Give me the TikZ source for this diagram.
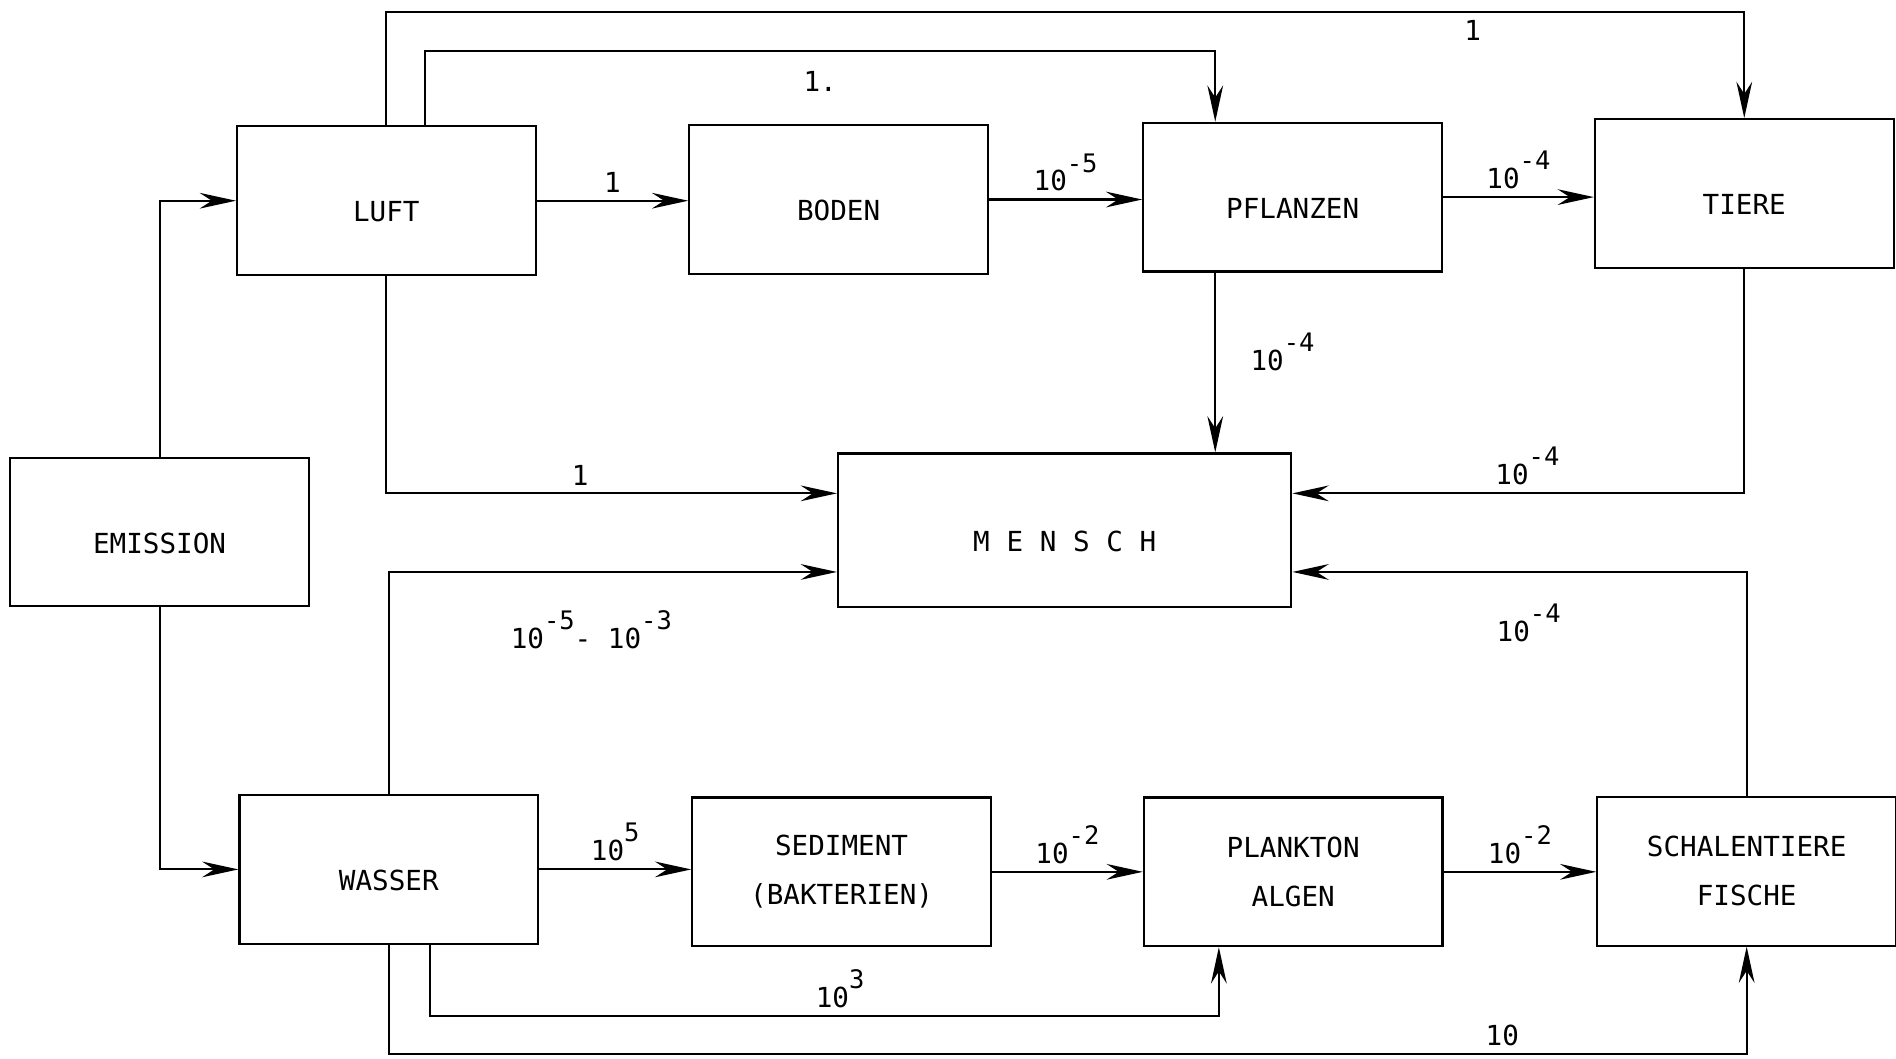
\documentclass[tikz,border=0pt]{standalone}
\usepackage{fontspec}
\setmonofont{DejaVu Sans Mono}
\usetikzlibrary{arrows.meta,calc}
\newcommand{\hoch}[1]{\raisebox{1.25ex}{\fontsize{12}{14}\selectfont #1}}
\tikzset{
    box/.style={draw, line width=1pt, minimum width=4.94cm, minimum height=2.46cm, align=center},
    low/.style={text height=0.7cm, text depth=0pt},
    flow/.style={line width=1pt, -{Stealth[length=6mm, width=2.6mm, inset=2mm]}},
}

\begin{document}
\begin{tikzpicture}[x=0.02cm, y=-0.02cm, every node/.style={font=\fontsize{13}{15}\selectfont\ttfamily}]
    \useasboundingbox (0,0) rectangle (1568,875);
    \node[box, low] (emission) at (132,440) {EMISSION};
    \node[box, low] (luft) at (319.5,166) {LUFT};
    \node[box, low] (boden) at (693.5,165) {BODEN};
    \node[box, low] (pflanzen) at (1069,163) {PFLANZEN};
    \node[box, low] (tiere) at (1442.5,160) {TIERE};
    \node[box, low, minimum width=7.5cm, minimum height=2.54cm] (mensch) at (880.5,438.5) {M E N S C H};
    \node[box, low] (wasser) at (321.5,719) {WASSER};
    \node[box] (sediment) at (696,721) {SEDIMENT\\[8pt](BAKTERIEN)};
    \node[box] (plankton) at (1069.5,721) {PLANKTON\\[8pt]ALGEN};
    \node[box] (schalen) at (1444.5,720.5) {SCHALENTIERE\\[8pt]FISCHE};
    \coordinate (ytop) at (0,10);
    \coordinate (ypf) at (0,42);
    \coordinate (yup) at (0,408);
    \coordinate (ylow) at (0,473);
    \coordinate (ypl) at (0,840);
    \coordinate (ybot) at (0,872);
    \coordinate (xpf) at (1005,0);
    \coordinate (xpl) at (1008,0);
    \draw[flow] (emission.north) |- (luft.west);
    \draw[flow] (emission.south) |- (wasser.west);
    \draw[flow] (luft.east) -- (luft.east -| boden.west) node[midway, above] {1};
    \draw[flow] (boden.east) -- (boden.east -| pflanzen.west) node[midway, above] {10\hoch{-5}};
    \draw[flow] (pflanzen.east) -- (pflanzen.east -| tiere.west) node[midway, above] {10\hoch{-4}};
    \draw[flow] (luft.north) |- (ytop -| tiere.north) node[pos=0.9, below] {1} -- (tiere.north);
    \draw[flow] ($(luft.north)+(32,0)$) |- (ypf -| xpf) node[pos=0.75, below=0.2cm] {1.} -- (pflanzen.north -| xpf);
    \draw[flow] (pflanzen.south -| xpf) -- (mensch.north -| xpf) node[pos=0.44, right=0.45cm] {10\hoch{-4}};
    \draw[flow] (luft.south) |- (mensch.west |- yup) node[pos=0.715, above] {1};
    \draw[flow] (tiere.south) |- (mensch.east |- yup) node[pos=0.74, above] {10\hoch{-4}};
    \draw[flow] (wasser.north) |- (mensch.west |- ylow) node[pos=0.726, below=0.5cm] {10\hoch{-5}- 10\hoch{-3}};
    \draw[flow] (schalen.north) |- (mensch.east |- ylow) node[pos=0.74, below=0.4cm] {10\hoch{-4}};
    \draw[flow] (wasser.east) -- (wasser.east -| sediment.west) node[midway, above] {10\hoch{5}};
    \draw[flow] (sediment.east) -- (sediment.east -| plankton.west) node[midway, above] {10\hoch{-2}};
    \draw[flow] (plankton.east) -- (plankton.east -| schalen.west) node[midway, above] {10\hoch{-2}};
    \draw[flow] ($(wasser.south)+(34,0)$) |- (ypl -| xpl) node[pos=0.76, above] {10\hoch{3}} -- (plankton.south -| xpl);
    \draw[flow] (wasser.south) |- (ybot -| schalen.south) node[pos=0.91, above] {10} -- (schalen.south);
\end{tikzpicture}
\end{document}
